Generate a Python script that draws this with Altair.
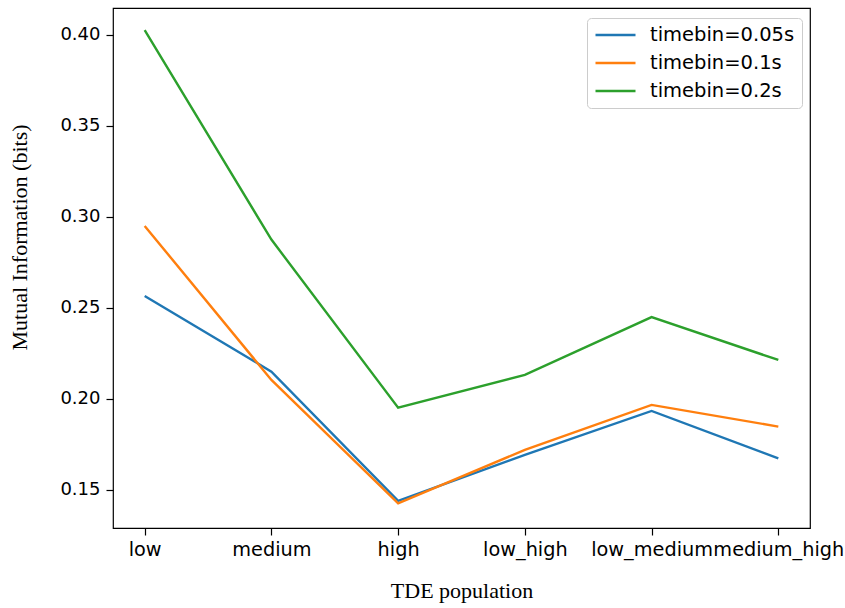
import altair as alt
import pandas as pd

# TDE population groups on the x axis
populations = ["low", "medium", "high", "low_high", "low_medium", "medium_high"]

# Mutual information (bits) per time bin
mi_005 = [0.2565, 0.2150, 0.1440, 0.1693, 0.1934, 0.1674]
mi_010 = [0.2950, 0.2104, 0.1427, 0.1720, 0.1967, 0.1848]
mi_020 = [0.4026, 0.2875, 0.1952, 0.2132, 0.2449, 0.2214]

series_names = ["timebin=0.05s", "timebin=0.1s", "timebin=0.2s"]
series_values = [mi_005, mi_010, mi_020]
series_colors = ["#1f77b4", "#ff7f0e", "#2ca02c"]

y_ticks = [0.15, 0.20, 0.25, 0.30, 0.35, 0.40]

rows = []
for name, vals in zip(series_names, series_values):
    for pop, v in zip(populations, vals):
        rows.append({"population": pop, "mi": v, "series": name})
df = pd.DataFrame(rows)

tick_font = "DejaVu Sans"
title_font = "Liberation Serif"

chart = (
    alt.Chart(df)
    .mark_line(strokeWidth=2.4)
    .encode(
        x=alt.X(
            "population:N",
            sort=populations,
            scale=alt.Scale(type="point", padding=0.25),
            axis=alt.Axis(
                title="TDE population",
                labelAngle=0,
                labelFont=tick_font,
                labelFontSize=19.3,
                labelColor="#000000",
                labelPadding=5,
                tickSize=7,
                tickColor="#000000",
                tickWidth=1.2,
                domain=False,
                grid=False,
                titleFont=title_font,
                titleFontSize=22,
                titleFontWeight="normal",
                titleColor="#000000",
                titlePadding=21,
            ),
        ),
        y=alt.Y(
            "mi:Q",
            scale=alt.Scale(domain=[0.1291, 0.4147], nice=False, zero=False),
            axis=alt.Axis(
                title="Mutual Information (bits)",
                values=y_ticks,
                format=".2f",
                labelFont=tick_font,
                labelFontSize=18,
                labelColor="#000000",
                labelPadding=6,
                tickSize=7,
                tickColor="#000000",
                tickWidth=1.2,
                domain=False,
                grid=False,
                titleFont=title_font,
                titleFontSize=22,
                titleFontWeight="normal",
                titleColor="#000000",
                titleX=-82,
                titleY=229,
            ),
        ),
        color=alt.Color(
            "series:N",
            sort=series_names,
            scale=alt.Scale(domain=series_names, range=series_colors),
            legend=alt.Legend(
                title=None,
                orient="none",
                legendX=474,
                legendY=10,
                symbolType="stroke",
                symbolSize=1600,
                symbolStrokeWidth=2.4,
                labelFont=tick_font,
                labelFontSize=19.5,
                labelColor="#000000",
                labelOffset=13,
                clipHeight=20,
                rowPadding=8,
                padding=7,
                strokeColor="#cccccc",
                cornerRadius=4,
                fillColor="#ffffff",
            ),
        ),
    )
    .properties(
        width=697,
        height=520,
        autosize=alt.AutoSizeParams(type="none"),
        padding={"left": 113, "top": 8, "right": 35, "bottom": 80},
    )
    .configure(
        background="#ffffff",
        view=alt.ViewConfig(stroke="#000000", strokeWidth=1.2),
    )
)

chart.save("out.html", embed_options={"renderer": "svg", "actions": False})
